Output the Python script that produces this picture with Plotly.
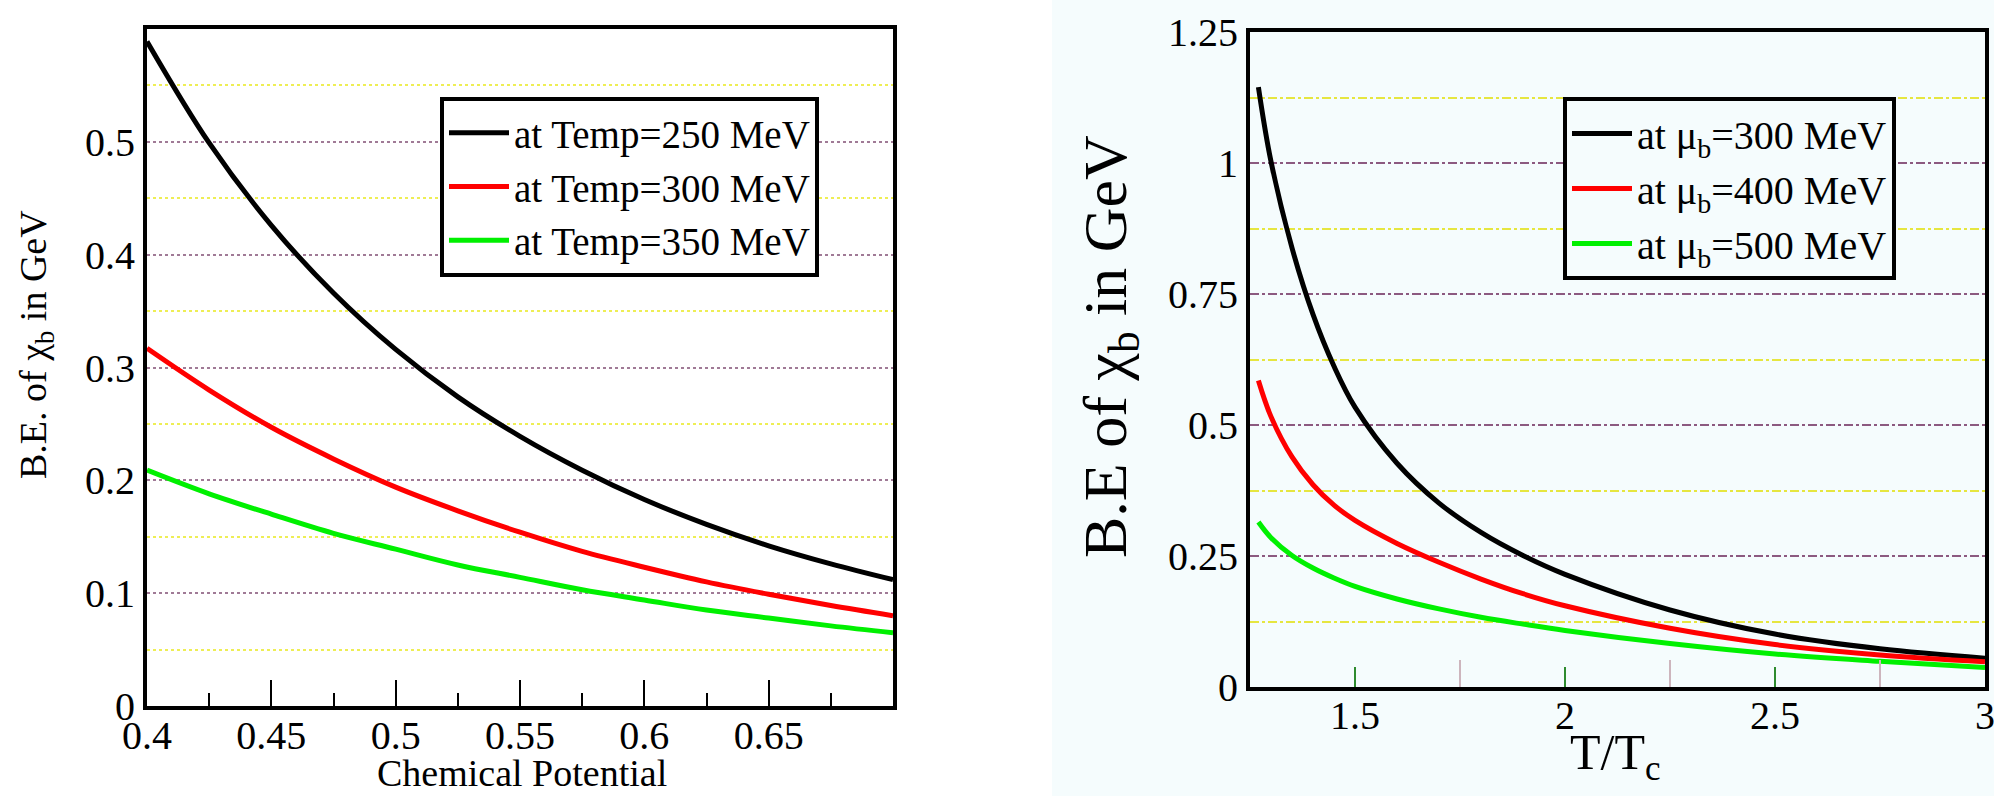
import plotly.graph_objects as go

# ---------------- data ----------------
# Left panel: B.E. of chi_b vs chemical potential
mu = [0.400, 0.425, 0.450, 0.475, 0.500, 0.525, 0.550, 0.575, 0.600, 0.625, 0.650, 0.675, 0.700]
be_T250 = [0.589, 0.499, 0.426, 0.366, 0.316, 0.274, 0.239, 0.209, 0.183, 0.161, 0.142, 0.126, 0.112]
be_T300 = [0.317, 0.280, 0.247, 0.219, 0.194, 0.173, 0.154, 0.137, 0.123, 0.110, 0.099, 0.089, 0.080]
be_T350 = [0.209, 0.188, 0.170, 0.153, 0.139, 0.125, 0.114, 0.103, 0.094, 0.085, 0.078, 0.071, 0.065]
left_names = ["at Temp=250 MeV", "at Temp=300 MeV", "at Temp=350 MeV"]

# Right panel: B.E of chi_b vs T/Tc
t_tc = [1.27, 1.30, 1.35, 1.40, 1.45, 1.50, 1.60, 1.70, 1.80, 1.90, 2.00, 2.25, 2.50, 2.75, 3.00]
be_mu300 = [1.145, 1.003, 0.838, 0.711, 0.612, 0.534, 0.427, 0.351, 0.295, 0.251, 0.215, 0.147, 0.101, 0.073, 0.055]
be_mu400 = [0.585, 0.516, 0.439, 0.386, 0.347, 0.318, 0.274, 0.238, 0.206, 0.178, 0.155, 0.112, 0.081, 0.061, 0.048]
be_mu500 = [0.315, 0.285, 0.251, 0.227, 0.208, 0.192, 0.168, 0.149, 0.133, 0.120, 0.108, 0.083, 0.063, 0.049, 0.037]
right_names = ["at \u03bc<sub>b</sub>=300 MeV", "at \u03bc<sub>b</sub>=400 MeV", "at \u03bc<sub>b</sub>=500 MeV"]

left_x_ticks = [0.4, 0.45, 0.5, 0.55, 0.6, 0.65]
left_x_labels = ["0.4", "0.45", "0.5", "0.55", "0.6", "0.65"]
left_x_minor = [0.425, 0.475, 0.525, 0.575, 0.625, 0.675]
left_y_ticks = [0, 0.1, 0.2, 0.3, 0.4, 0.5]
left_y_labels = ["0", "0.1", "0.2", "0.3", "0.4", "0.5"]
left_y_minor = [0.05, 0.15, 0.25, 0.35, 0.45, 0.55]

right_x_ticks = [1.5, 2, 2.5, 3]
right_x_labels = ["1.5", "2", "2.5", "3"]
right_x_minor = [1.75, 2.25, 2.75]
right_y_ticks = [0, 0.25, 0.5, 0.75, 1, 1.25]
right_y_labels = ["0", "0.25", "0.5", "0.75", "1", "1.25"]
right_y_minor = [0.125, 0.375, 0.625, 0.875, 1.125]

colors = ["#000000", "#ff0000", "#00f000"]

# ---------------- figure ----------------
W, H = 1994, 796
FONT = "Liberation Serif, Times New Roman, serif"

fig = go.Figure()

for ys, name, c in zip([be_T250, be_T300, be_T350], left_names, colors):
    fig.add_trace(go.Scatter(x=mu, y=ys, mode="lines", name=name,
                             line=dict(color=c, width=5, shape="spline"),
                             xaxis="x", yaxis="y", legend="legend"))
for ys, name, c in zip([be_mu300, be_mu400, be_mu500], right_names, colors):
    fig.add_trace(go.Scatter(x=t_tc, y=ys, mode="lines", name=name,
                             line=dict(color=c, width=5, shape="spline"),
                             xaxis="x2", yaxis="y2", legend="legend2"))


def px(v):
    return v / W


def py(v):
    return 1 - v / H


tickfont = dict(family=FONT, size=40, color="black")

fig.update_layout(
    width=W, height=H,
    margin=dict(l=0, r=0, t=0, b=0, pad=0, autoexpand=False),
    paper_bgcolor="white",
    plot_bgcolor="rgba(0,0,0,0)",
    showlegend=True,
    font=dict(family=FONT, color="black"),
    xaxis=dict(
        domain=[px(147), px(893)], anchor="y", range=[0.4, 0.7], automargin=False,
        tickmode="array", tickvals=left_x_ticks, ticktext=left_x_labels,
        ticks="inside", ticklen=26, tickwidth=2, tickcolor="black",
        ticklabelstandoff=-9, ticklabeloverflow="allow",
        minor=dict(tickmode="array", tickvals=left_x_minor, ticks="inside",
                   ticklen=13, tickwidth=2, tickcolor="black", showgrid=False),
        showgrid=False, zeroline=False,
        showline=True, linewidth=4, linecolor="black", mirror=True,
        tickfont=tickfont,
    ),
    yaxis=dict(
        domain=[py(706), py(29)], anchor="x", range=[0, 0.6], automargin=False,
        tickmode="array", tickvals=left_y_ticks, ticktext=left_y_labels,
        ticks="", showgrid=True, gridcolor="#a07a96", gridwidth=1.5, griddash="dot",
        minor=dict(tickmode="array", tickvals=left_y_minor, showgrid=True,
                   gridcolor="#eeee55", gridwidth=1.5, griddash="dot"),
        zeroline=False, ticklabeloverflow="allow",
        showline=True, linewidth=4, linecolor="black", mirror=True,
        tickfont=tickfont,
    ),
    xaxis2=dict(
        domain=[px(1250), px(1985)], anchor="y2", range=[1.25, 3], automargin=False,
        tickmode="array", tickvals=right_x_ticks, ticktext=right_x_labels,
        ticks="inside", ticklen=20, tickwidth=2, tickcolor="#2e8b2e",
        ticklabelstandoff=-10, ticklabeloverflow="allow",
        minor=dict(tickmode="array", tickvals=right_x_minor, ticks="inside",
                   ticklen=27, tickwidth=2, tickcolor="#cdb5bd", showgrid=False),
        showgrid=False, zeroline=False,
        showline=True, linewidth=4, linecolor="black", mirror=True,
        tickfont=tickfont,
    ),
    yaxis2=dict(
        domain=[py(687), py(32)], anchor="x2", range=[0, 1.25], automargin=False,
        tickmode="array", tickvals=right_y_ticks, ticktext=right_y_labels,
        ticks="", showgrid=True, gridcolor="#8c5a80", gridwidth=1.5, griddash="dashdot",
        minor=dict(tickmode="array", tickvals=right_y_minor, showgrid=True,
                   gridcolor="#e6e640", gridwidth=1.5, griddash="dashdot"),
        zeroline=False, ticklabeloverflow="allow",
        showline=True, linewidth=4, linecolor="black", mirror=True,
        tickfont=tickfont,
    ),
    legend=dict(
        x=px(440), y=py(97), xanchor="left", yanchor="top",
        bgcolor="white", bordercolor="black", borderwidth=4,
        font=dict(family=FONT, size=39, color="black"),
        itemwidth=60, tracegroupgap=0,
    ),
    legend2=dict(
        x=px(1563), y=py(97), xanchor="left", yanchor="top",
        bgcolor="#f5fcfd", bordercolor="black", borderwidth=4,
        font=dict(family=FONT, size=40, color="black"),
        itemwidth=60, tracegroupgap=0,
    ),
    shapes=[
        dict(type="rect", xref="paper", yref="paper", x0=px(1052), x1=1, y0=0, y1=1,
             fillcolor="#f5fcfd", line=dict(width=0), layer="below"),
    ],
    annotations=[
        dict(text="Chemical Potential", xref="paper", yref="paper",
             x=px(522), y=0, xanchor="center", yanchor="bottom", showarrow=False,
             font=dict(family=FONT, size=38, color="black")),
        dict(text="B.E. of \u03c7<sub>b</sub> in GeV", xref="paper", yref="paper",
             x=px(36), y=py(345), xanchor="center", yanchor="middle", showarrow=False,
             textangle=-90, font=dict(family=FONT, size=38, color="black")),
        dict(text="B.E of \u03c7<sub>b</sub> in GeV", xref="paper", yref="paper",
             x=px(1109), y=py(347), xanchor="center", yanchor="middle", showarrow=False,
             textangle=-90, font=dict(family=FONT, size=62, color="black")),
        dict(text="T/T<sub>c</sub>", xref="paper", yref="paper",
             x=px(1615), y=py(756), xanchor="center", yanchor="middle", showarrow=False,
             font=dict(family=FONT, size=50, color="black")),
    ],
)

fig.write_html(
    "out.html",
    config={"displayModeBar": False},
    post_script="document.body.style.margin='0';document.body.style.overflow='hidden';",
)
